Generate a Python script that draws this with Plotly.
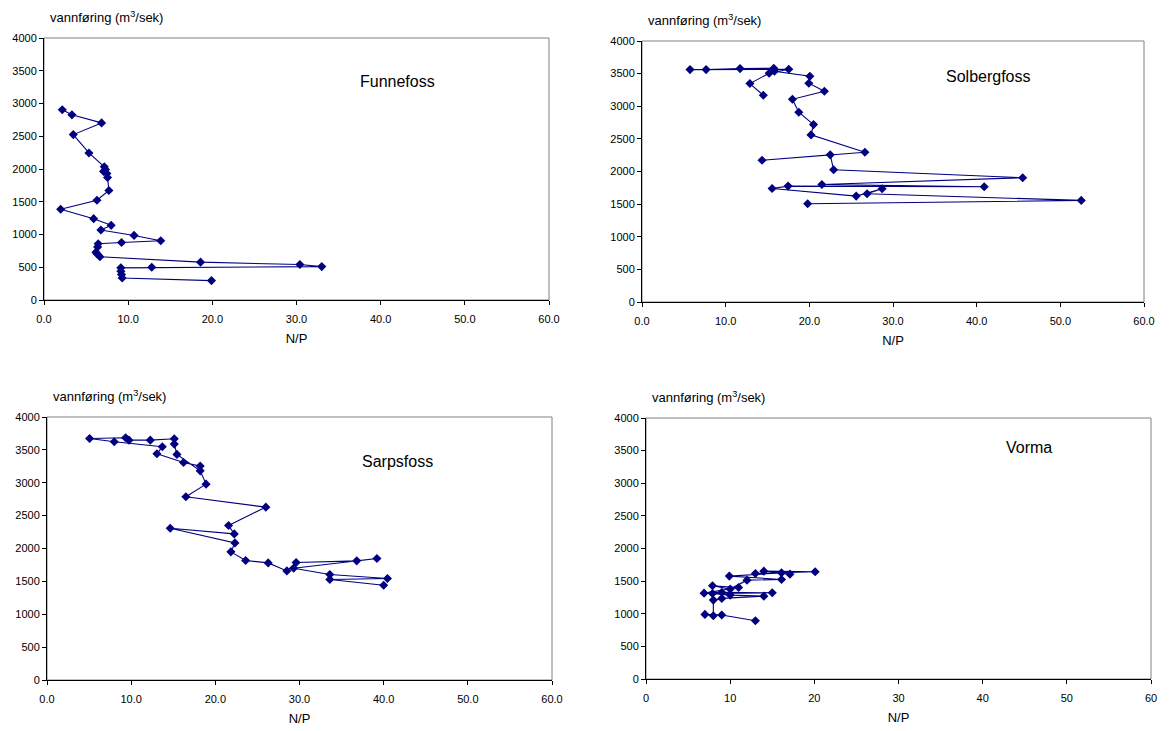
import plotly.graph_objects as go

# ---------------- data ----------------
funnefoss_np = [2.17, 3.32, 6.84, 3.48, 5.34, 7.16, 7.3, 7.08, 7.47, 7.55, 7.71, 6.29, 1.98,
                5.9, 7.98, 6.76, 10.7, 13.87, 9.21, 6.44, 6.37, 6.17, 6.3, 6.64, 18.6, 30.4,
                33.0, 12.8, 9.13, 9.13, 9.21, 9.29, 19.9]
funnefoss_q = [2904, 2827, 2704, 2525, 2245, 2034, 1994, 1963, 1932, 1871, 1672, 1523, 1385,
               1242, 1140, 1068, 986, 905, 879, 859, 808, 730, 705, 660, 578, 541,
               510, 501, 491, 439, 388, 337, 296]

solberg_np = [14.5, 12.9, 15.2, 17.54, 5.74, 7.66, 11.72, 15.75, 15.83, 20.06, 19.94, 21.8,
              17.98, 18.74, 20.5, 20.2, 26.64, 14.35, 22.5, 22.9, 45.5, 21.5, 40.9, 17.46,
              15.55, 25.6, 28.7, 26.9, 52.5, 19.8]
solberg_q = [3169, 3348, 3506, 3567, 3562, 3562, 3577, 3582, 3536, 3460, 3353, 3230,
             3107, 2908, 2719, 2561, 2296, 2173, 2255, 2026, 1904, 1801, 1766, 1776,
             1740, 1623, 1735, 1659, 1557, 1506]

sarps_np = [18.2, 16.22, 13.06, 13.7, 7.99, 5.06, 9.34, 9.74, 12.27, 15.12, 15.12, 15.44,
            18.2, 18.9, 16.5, 26.0, 21.57, 22.25, 14.64, 22.33, 21.85, 23.6, 26.28, 28.5,
            29.6, 36.8, 39.2, 29.3, 33.6, 40.45, 33.6, 40.0]
sarps_q = [3253, 3309, 3440, 3547, 3623, 3674, 3684, 3648, 3648, 3669, 3588, 3431,
           3181, 2979, 2786, 2629, 2350, 2222, 2309, 2085, 1949, 1817, 1781, 1659,
           1787, 1812, 1848, 1700, 1604, 1543, 1528, 1441]

vorma_np = [13.0, 9.0, 7.0, 8.0, 8.0, 9.0, 14.0, 10.0, 7.9, 15.0, 9.0, 6.9, 11.0, 7.9,
            10.0, 12.0, 16.1, 9.9, 16.1, 13.0, 20.1, 14.0, 17.1]
vorma_q = [893, 980, 990, 970, 1209, 1235, 1270, 1286, 1311, 1322, 1327, 1316, 1403, 1429,
           1378, 1515, 1526, 1577, 1627, 1617, 1643, 1653, 1607]

stations = ["Funnefoss", "Solbergfoss", "Sarpsfoss", "Vorma"]
y_ticks = [0, 500, 1000, 1500, 2000, 2500, 3000, 3500, 4000]
x_ticks = [0, 10, 20, 30, 40, 50, 60]
y_title = "vannføring (m<sup>3</sup>/sek)"
x_title = "N/P"

series = [(funnefoss_np, funnefoss_q), (solberg_np, solberg_q),
          (sarps_np, sarps_q), (vorma_np, vorma_q)]

# ---------------- layout geometry (pixels of the page) ----------------
OFF = 8                       # default page body margin
W, H = 1172 - OFF, 731 - OFF  # figure size that fills the window
panels = [  # x0, x1, ytop, ybottom in page pixels
    (44, 549, 38, 300),
    (642, 1144, 41, 302),
    (47, 552, 417, 680),
    (646, 1151, 418, 679),
]
label_pos = [(398, 82), (988, 76), (398, 461), (1029, 448)]
xfmt = [".1f", ".1f", ".1f", "d"]


def fx(px):
    return (px - OFF) / W


def fy(py):
    return 1 - (py - OFF) / H


NAVY = "#000080"
FONT = "Liberation Sans, Arial, sans-serif"

fig = go.Figure()
layout = {}
annotations = []
shapes = []
for i, ((xs, ys), (px0, px1, pyt, pyb)) in enumerate(zip(series, panels)):
    n = "" if i == 0 else str(i + 1)
    fig.add_trace(go.Scatter(
        x=xs, y=ys, mode="lines+markers", xaxis="x" + n, yaxis="y" + n,
        line=dict(color=NAVY, width=1.1),
        marker=dict(symbol="diamond", size=7, color=NAVY),
        showlegend=False, hoverinfo="x+y"))
    layout["xaxis" + n] = dict(
        domain=[fx(px0), fx(px1)], anchor="y" + n, range=[0, 60], automargin=False,
        tickvals=x_ticks, tickformat=xfmt[i], showgrid=False, zeroline=False,
        showline=True, linecolor="#000000", linewidth=1, ticks="outside",
        ticklen=4, tickcolor="#000000", tickfont=dict(size=11, color="#000"),
        ticklabelstandoff=5,
        title=dict(text=x_title, font=dict(size=13, color="#000"), standoff=9),
        fixedrange=True)
    layout["yaxis" + n] = dict(
        domain=[fy(pyb), fy(pyt)], anchor="x" + n, range=[0, 4000],
        automargin=False,
        tickvals=y_ticks, showgrid=False, zeroline=False,
        showline=True, linecolor="#000000", linewidth=1, ticks="outside",
        ticklen=4, tickcolor="#000000", tickfont=dict(size=11, color="#000"),
        fixedrange=True)
    shapes.append(dict(type="rect", xref="x" + n + " domain", yref="y" + n + " domain",
                       x0=0, x1=1, y0=0, y1=1, line=dict(color="#808080", width=1),
                       layer="below"))
    annotations.append(dict(text=y_title, xref="paper", yref="paper",
                            x=fx(px0 + 4), y=fy(pyt - 21), xanchor="left",
                            yanchor="middle", showarrow=False,
                            font=dict(size=13, color="#000")))
    lx, ly = label_pos[i]
    annotations.append(dict(text=stations[i], xref="paper", yref="paper",
                            x=fx(lx), y=fy(ly), xanchor="center", yanchor="middle",
                            showarrow=False, font=dict(size=16, color="#000")))

fig.update_layout(**layout)
fig.update_layout(width=W, height=H, margin=dict(l=0, r=0, t=0, b=0),
                  paper_bgcolor="white", plot_bgcolor="white",
                  font=dict(family=FONT, color="#000"),
                  annotations=annotations, shapes=shapes)

fig.write_html("out.html")
